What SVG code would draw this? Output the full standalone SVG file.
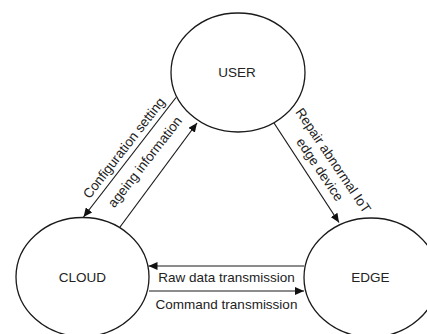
<svg xmlns="http://www.w3.org/2000/svg" width="427" height="334" viewBox="0 0 427 334">
<defs>
<style>
.node ellipse{fill:#fff;stroke:#1a1a1a;stroke-width:1.3}
.lbl{font-family:"Liberation Sans",Arial,sans-serif;font-size:13.5px;fill:#222;text-anchor:middle}
.conn line{stroke:#1a1a1a;stroke-width:1.2;fill:none}
</style>
<marker id="ah" markerUnits="userSpaceOnUse" markerWidth="10" markerHeight="8" refX="9" refY="4" orient="auto">
<path d="M0,0 L9,4 L0,8 Z" fill="#111"/>
</marker>
</defs>
<rect width="427" height="334" fill="#fff"/>
<g class="conn">
<line x1="176" y1="97.5" x2="83.5" y2="217" marker-end="url(#ah)"/>
<line x1="120" y1="227" x2="197" y2="123" marker-end="url(#ah)"/>
<line x1="274" y1="123" x2="339" y2="222.5" marker-end="url(#ah)"/>
<line x1="304" y1="266" x2="148.5" y2="266" marker-end="url(#ah)"/>
<line x1="149" y1="291" x2="304" y2="291" marker-end="url(#ah)"/>
<text class="lbl" transform="translate(124,148) rotate(-52)" y="4.5">Configuration setting</text>
<text class="lbl" transform="translate(145,162) rotate(-52)" y="4.5">ageing information</text>
<text class="lbl" transform="translate(326.5,165) rotate(56)"><tspan x="0" y="-3.5">Repair abnormal IoT</tspan><tspan x="0" y="12.5">edge device</tspan></text>
<text class="lbl" x="226.5" y="282">Raw data transmission</text>
<text class="lbl" x="226.5" y="308.5">Command transmission</text>
</g>
<g id="user" class="node"><ellipse cx="238" cy="72.5" rx="67" ry="59.5"/><text class="lbl" x="237" y="76.5">USER</text></g>
<g id="cloud" class="node"><ellipse cx="82.5" cy="277" rx="66.5" ry="59.5"/><text class="lbl" x="82.5" y="281.5">CLOUD</text></g>
<g id="edge" class="node"><ellipse cx="371" cy="277.5" rx="67" ry="59.5"/><text class="lbl" x="370.5" y="281.5">EDGE</text></g>
</svg>
